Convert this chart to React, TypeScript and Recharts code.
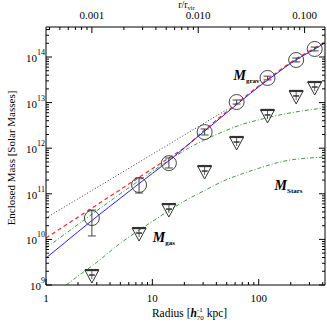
import React from 'react';
import { ComposedChart, Line, Scatter, XAxis, YAxis, ErrorBar, ReferenceDot, Label } from 'recharts';

// radii of the binned measurements (h70^-1 kpc)
const pointR = [2.7, 7.5, 14.3, 31, 62, 121, 225, 336];
// gravitating mass with error bounds (solar masses)
const gravM = [2.94e10, 1.56e11, 4.7e11, 2.26e12, 1.03e13, 3.47e13, 8.6e13, 1.5e14];
const gravLo = [1.19e10, 1.04e11, 3.68e11, 1.95e12, 9.3e12, 3.15e13, 7.8e13, 1.36e14];
const gravHi = [4.4e10, 2.22e11, 6.1e11, 2.64e12, 1.14e13, 3.8e13, 9.5e13, 1.65e14];
// gas mass upper limits
const gasLimitM = [1.57e9, 1.31e10, 4.4e10, 3.0e11, 1.3e12, 5.1e12, 1.33e13, 2.09e13];

// model curves, sampled
const lineR = [1, 1.5, 2, 3, 5, 7, 10, 15, 20, 30, 50, 70, 100, 150, 200, 300, 420];
const blueM = [3.91e9, 8.47e9, 1.47e10, 3.16e10, 8.0e10, 1.48e11, 2.8e11, 5.8e11, 1.02e12, 2.23e12, 6.0e12, 1.14e13, 2.22e13, 4.48e13, 7.3e13, 1.28e14, 2.03e14];
const redM = [1.07e10, 1.99e10, 3.08e10, 5.71e10, 1.24e11, 2.07e11, 3.55e11, 6.58e11, 1.02e12, 2.35e12, 6.35e12, 1.2e13, 2.33e13, 4.69e13, 7.66e13, 1.35e14, 2.13e14];
const greenUpM = [6.47e9, 1.3e10, 2.13e10, 4.24e10, 1.0e11, 1.74e11, 3.11e11, 5.82e11, 8.9e11, 1.47e12, 2.48e12, 3.34e12, 4.18e12, 5.24e12, 5.97e12, 6.95e12, 7.62e12];
const dotR = [1, 1.5, 2, 3, 5, 7, 10, 15, 20, 30, 50];
const dotM = [2.94e10, 5.21e10, 7.76e10, 1.37e11, 2.8e11, 4.48e11, 7.38e11, 1.3e12, 1.95e12, 3.43e12, 7.0e12];
const greenLoR = [1.55, 2, 3, 5, 7, 10, 15, 20, 30, 50, 70, 100, 150, 200, 300, 420];
const greenLoM = [1.0e9, 1.57e9, 3.15e9, 8.26e9, 1.43e10, 2.48e10, 4.57e10, 6.89e10, 1.14e11, 2.05e11, 2.75e11, 3.62e11, 4.81e11, 5.53e11, 6.1e11, 6.41e11];

// axes
const xDomain = [1, 420];
const yDomain = [1e9, 4.55e14];
const xMajor = [1, 10, 100];
const xMinor = [2, 3, 4, 5, 6, 7, 8, 9, 20, 30, 40, 50, 60, 70, 80, 90, 200, 300, 400];
const rVir = 2700;
const topMajor = [0.001, 0.01, 0.1];
const topLabels = ['0.001', '0.010', '0.100'];
const topMinor = [0.0004, 0.0005, 0.0006, 0.0007, 0.0008, 0.0009, 0.002, 0.003, 0.004, 0.005, 0.006, 0.007, 0.008, 0.009, 0.02, 0.03, 0.04, 0.05, 0.06, 0.07, 0.08, 0.09];
const yExp = [9, 10, 11, 12, 13, 14];
const yMinorFactors = [2, 3, 4, 5, 6, 7, 8, 9];

const FONT = "'Liberation Serif', 'DejaVu Serif', serif";

const zip = (rs: number[], ms: number[]) => rs.map((r, i) => ({ r, m: ms[i] }));
const gravData = pointR.map((r, i) => ({ r, m: gravM[i], err: [gravM[i] - gravLo[i], gravHi[i] - gravM[i]] }));
const gasData = zip(pointR, gasLimitM);

const xTicks = [...xMajor, ...xMinor];
const topTickR = [...topMajor, ...topMinor].map((t) => t * rVir);
const yTicks = [
  ...yExp.map((e) => 10 ** e),
  ...yExp.flatMap((e) => yMinorFactors.map((f) => f * 10 ** e)).filter((v) => v <= yDomain[1]),
];
const isDecade = (v: number) => Math.abs(Math.log10(v) - Math.round(Math.log10(v))) < 1e-9;

const BottomTick = ({ x, y, payload }: any) => {
  const major = xMajor.includes(payload.value);
  return (
    <g>
      <line x1={x} x2={x} y1={y} y2={y - (major ? 6 : 3)} stroke="#000" />
      {major && (
        <text x={x} y={y + 17} textAnchor="middle" fontSize={11} fontFamily={FONT} fill="#000">
          {payload.value}
        </text>
      )}
    </g>
  );
};

const TopTick = ({ x, y, payload }: any) => {
  const idx = topMajor.findIndex((t) => Math.abs(t * rVir - payload.value) < 1e-6);
  return (
    <g>
      <line x1={x} x2={x} y1={y} y2={y + (idx >= 0 ? 6 : 3)} stroke="#000" />
      {idx >= 0 && (
        <text x={x} y={y - 8} textAnchor="middle" fontSize={11} fontFamily={FONT} fill="#000">
          {topLabels[idx]}
        </text>
      )}
    </g>
  );
};

const LeftTick = ({ x, y, payload }: any) => {
  const major = isDecade(payload.value);
  return (
    <g>
      <line x1={x} x2={x + (major ? 6 : 3)} y1={y} y2={y} stroke="#000" />
      {major && (
        <text x={x - 1} y={y + 5} textAnchor="end" fontSize={11} fontFamily={FONT} fill="#000">
          <tspan>10</tspan>
          <tspan dy={-7} fontSize={8}>{Math.round(Math.log10(payload.value))}</tspan>
        </text>
      )}
    </g>
  );
};

const RightTick = ({ x, y, payload }: any) => {
  const major = isDecade(payload.value);
  return <line x1={x} x2={x - (major ? 6 : 3)} y1={y} y2={y} stroke="#000" />;
};

const Circle = ({ cx, cy }: any) => <circle cx={cx} cy={cy} r={7.5} fill="none" stroke="#444" strokeWidth={1} />;

const Triangle = ({ cx, cy }: any) => (
  <g stroke="#333" fill="none">
    <path d={`M${cx - 7},${cy - 6} L${cx + 7},${cy - 6} L${cx},${cy + 7} Z`} strokeWidth={1} />
    <line x1={cx - 7} x2={cx + 7} y1={cy - 6} y2={cy - 6} strokeWidth={2.2} />
    <line x1={cx - 3} x2={cx + 3} y1={cy - 1} y2={cy - 1} strokeWidth={1.5} />
    <line x1={cx} x2={cx} y1={cy - 5} y2={cy + 3} strokeWidth={0.8} />
  </g>
);

const MLabel = (sub: string) => ({ cx, cy }: any) => (
  <text x={cx} y={cy} fontFamily={FONT} fill="#000" fontWeight="bold">
    <tspan fontSize={14} fontStyle="italic">M</tspan>
    <tspan fontSize={7} dy={3}>{sub}</tspan>
  </text>
);

const YTitle = ({ viewBox }: any) => {
  const cx = 12;
  const cy = viewBox.y + viewBox.height / 2 + 2;
  return (
    <text x={cx} y={cy} transform={`rotate(-90, ${cx}, ${cy})`} textAnchor="middle" dominantBaseline="middle" fontSize={11} fontFamily={FONT} fill="#000">
      Enclosed Mass [Solar Masses]
    </text>
  );
};

const XTitle = ({ viewBox }: any) => (
  <text x={viewBox.x + viewBox.width / 2 + 4} y={viewBox.y + 32} textAnchor="middle" fontSize={11.5} fontFamily={FONT} fill="#000">
    <tspan>Radius [</tspan>
    <tspan fontWeight="bold" fontStyle="italic">h</tspan>
    <tspan fontSize={7} dy={-5}>-1</tspan>
    <tspan fontSize={7} dx={-6} dy={8}>70</tspan>
    <tspan dy={-3}> kpc]</tspan>
  </text>
);

const TopTitle = ({ viewBox }: any) => (
  <text x={viewBox.x + viewBox.width / 2 + 1} y={8} textAnchor="middle" fontSize={10} fontFamily={FONT} fill="#000">
    <tspan>r/r</tspan>
    <tspan fontSize={6.5} dy={1.5}>vir</tspan>
  </text>
);

export default function App() {
  return (
    <div style={{ position: 'absolute', left: 0, top: 0, background: '#fff' }}>
      <ComposedChart width={327} height={323} margin={{ top: 0, right: 0, bottom: 0, left: 0 }}>
        <XAxis
          dataKey="r"
          type="number"
          scale="log"
          domain={xDomain}
          allowDataOverflow
          ticks={xTicks}
          interval={0}
          tick={BottomTick}
          tickLine={false}
          tickSize={0}
          tickMargin={0}
          axisLine={{ stroke: '#000' }}
          height={38}
        >
          <Label content={XTitle} />
        </XAxis>
        <XAxis
          xAxisId="top"
          orientation="top"
          dataKey="r"
          type="number"
          scale="log"
          domain={xDomain}
          allowDataOverflow
          ticks={topTickR}
          interval={0}
          tick={TopTick}
          tickLine={false}
          tickSize={0}
          tickMargin={0}
          axisLine={{ stroke: '#000' }}
          height={27}
        >
          <Label content={TopTitle} />
        </XAxis>
        <YAxis
          dataKey="m"
          type="number"
          scale="log"
          domain={yDomain}
          allowDataOverflow
          ticks={yTicks}
          interval={0}
          tick={LeftTick}
          tickLine={false}
          tickSize={0}
          tickMargin={0}
          axisLine={{ stroke: '#000' }}
          width={46}
        >
          <Label content={YTitle} />
        </YAxis>
        <YAxis
          yAxisId="right"
          orientation="right"
          dataKey="m"
          type="number"
          scale="log"
          domain={yDomain}
          allowDataOverflow
          ticks={yTicks}
          interval={0}
          tick={RightTick}
          tickLine={false}
          tickSize={0}
          tickMargin={0}
          axisLine={{ stroke: '#000' }}
          width={2}
        />

        <Line data={zip(greenLoR, greenLoM)} dataKey="m" stroke="#3f9c3f" strokeWidth={1} strokeDasharray="4 2 1 2" dot={false} type="monotone" isAnimationActive={false} />
        <Line data={zip(lineR, greenUpM)} dataKey="m" stroke="#3f9c3f" strokeWidth={1} strokeDasharray="4 2 1 2" dot={false} type="monotone" isAnimationActive={false} />
        <Line data={zip(dotR, dotM)} xAxisId="top" yAxisId="right" dataKey="m" stroke="#333" strokeWidth={1} strokeDasharray="1 2" dot={false} type="monotone" isAnimationActive={false} />
        <Line data={zip(lineR, redM)} dataKey="m" stroke="#ff2a2a" strokeWidth={1.2} strokeDasharray="4 3" dot={false} type="monotone" isAnimationActive={false} />
        <Line data={zip(lineR, blueM)} dataKey="m" stroke="#1f1fff" strokeWidth={1} dot={false} type="monotone" isAnimationActive={false} />

        <Scatter data={gravData} dataKey="m" shape={Circle} isAnimationActive={false}>
          <ErrorBar dataKey="err" direction="y" width={4} stroke="#444" strokeWidth={1} />
        </Scatter>
        <Scatter data={gasData} dataKey="m" shape={Triangle} isAnimationActive={false} />

        <ReferenceDot x={58} y={3.1e13} r={0} ifOverflow="visible" shape={MLabel('grav')} />
        <ReferenceDot x={10.1} y={8.8e9} r={0} ifOverflow="visible" shape={MLabel('gas')} />
        <ReferenceDot x={141} y={1.21e11} r={0} ifOverflow="visible" shape={MLabel('Stars')} />
      </ComposedChart>
    </div>
  );
}
